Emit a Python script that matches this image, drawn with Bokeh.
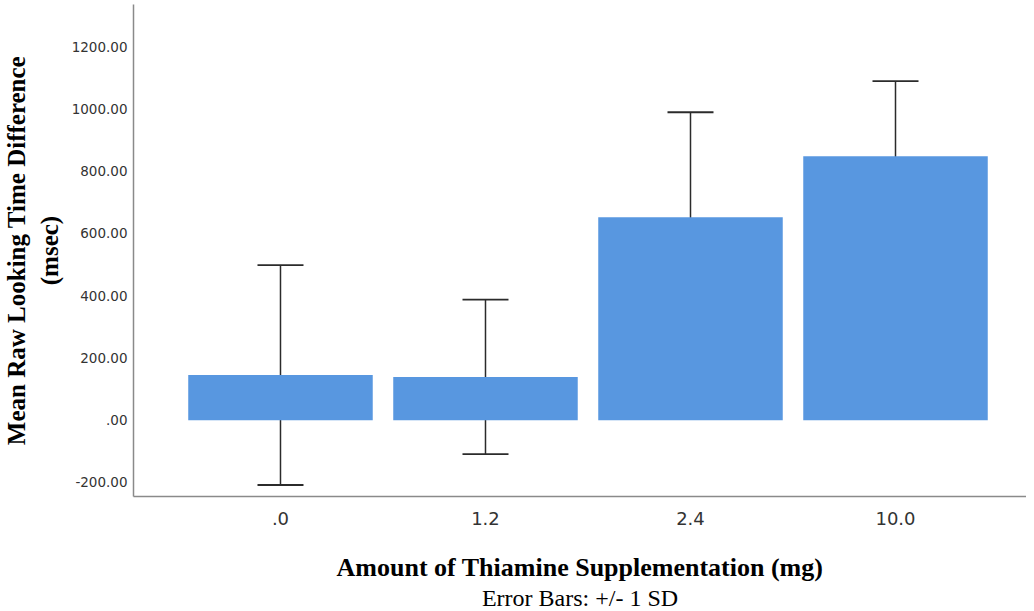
from bokeh.plotting import figure
from bokeh.models import Range1d, FixedTicker, ColumnDataSource, Whisker, TeeHead, Title
from bokeh.embed import file_html
from bokeh.resources import INLINE

categories = [".0", "1.2", "2.4", "10.0"]
means = [145.0, 139.0, 652.0, 848.0]
sds = [353.0, 248.0, 337.0, 241.0]
y_ticks = [-200, 0, 200, 400, 600, 800, 1000, 1200]
y_tick_labels = ["-200.00", ".00", "200.00", "400.00", "600.00", "800.00", "1000.00", "1200.00"]

xs = list(range(len(categories)))
upper = [m + s for m, s in zip(means, sds)]
lower = [m - s for m, s in zip(means, sds)]
src = ColumnDataSource(dict(x=xs, top=means, upper=upper, lower=lower))

p = figure(width=1026, height=611, output_backend="svg", toolbar_location=None,
           x_range=Range1d(-0.717, 3.639), y_range=Range1d(-245, 1335),
           min_border_left=133, min_border_right=0, min_border_top=4, min_border_bottom=115)
p.outline_line_color = None
p.xgrid.visible = False
p.ygrid.visible = False
p.background_fill_color = "white"

p.vbar(x="x", top="top", bottom=0, width=0.9, source=src,
       fill_color="#5897E0", line_color=None)

w = Whisker(base="x", upper="upper", lower="lower", source=src,
            line_color="#2b2b2b", line_width=1.5,
            upper_head=TeeHead(size=46, line_color="#2b2b2b", line_width=1.8),
            lower_head=TeeHead(size=46, line_color="#2b2b2b", line_width=1.8))
p.add_layout(w)

# axes
p.xaxis.ticker = FixedTicker(ticks=xs)
p.xaxis.major_label_overrides = {i: c for i, c in zip(xs, categories)}
p.yaxis.ticker = FixedTicker(ticks=y_ticks)
p.yaxis.major_label_overrides = {t: l for t, l in zip(y_ticks, y_tick_labels)}

for ax in (p.xaxis, p.yaxis):
    ax.axis_line_color = "#8a8a8a"
    ax.axis_line_width = 1.5
    ax.major_tick_line_color = None
    ax.minor_tick_line_color = None
    ax.major_tick_out = 0
    ax.major_tick_in = 0
    ax.major_label_text_font = "DejaVu Sans"
    ax.major_label_text_color = "#333333"

p.yaxis.major_label_text_font_size = "13.5px"
p.yaxis.major_label_standoff = 6
p.xaxis.major_label_text_font_size = "18px"
p.xaxis.major_label_standoff = 15

p.yaxis.axis_label = "Mean Raw Looking Time Difference\n(msec)"
p.yaxis.axis_label_text_font = "Liberation Serif"
p.yaxis.axis_label_text_font_style = "bold"
p.yaxis.axis_label_text_font_size = "25px"
p.yaxis.axis_label_text_color = "black"
p.yaxis.axis_label_standoff = 6

p.xaxis.axis_label = "Amount of Thiamine Supplementation (mg)"
p.xaxis.axis_label_text_font = "Liberation Serif"
p.xaxis.axis_label_text_font_style = "bold"
p.xaxis.axis_label_text_font_size = "26px"
p.xaxis.axis_label_text_color = "black"
p.xaxis.axis_label_standoff = 25

sub = Title(text="Error Bars: +/- 1 SD", align="center", text_font="Liberation Serif",
            text_font_style="normal", text_font_size="24px", text_color="black",
            standoff=-4, offset=0)
p.add_layout(sub, "below")

open("out.html", "w").write(file_html(p, INLINE))
